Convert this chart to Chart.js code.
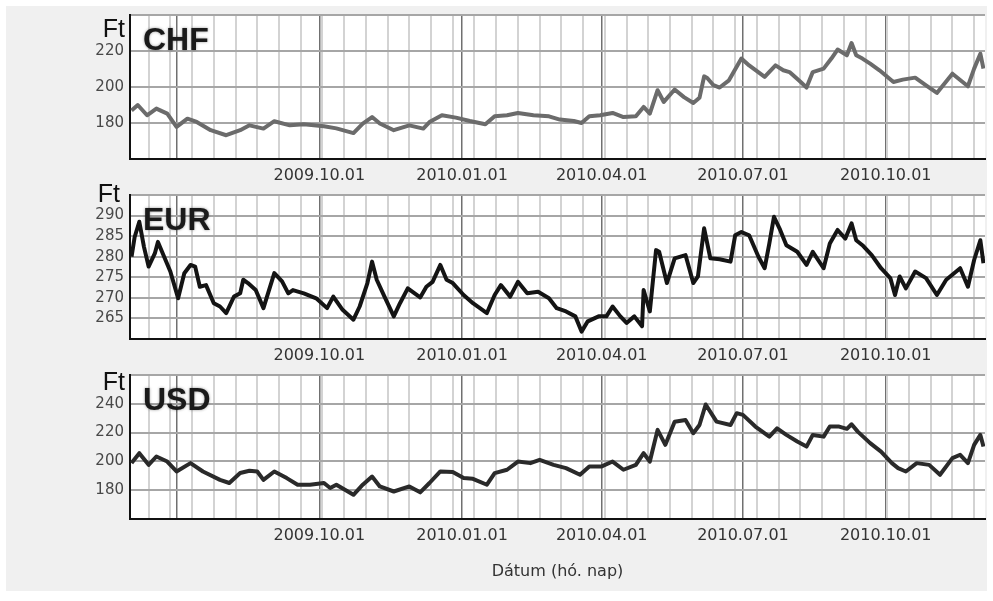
<!DOCTYPE html>
<html>
<head>
<meta charset="utf-8">
<script src="https://cdn.jsdelivr.net/npm/chart.js@4.4.1/dist/chart.umd.min.js"></script>
<style>
  html, body { margin: 0; padding: 0; background: #fff; overflow: hidden; }
  #frame { position: absolute; left: 6px; top: 6px; width: 981px; height: 585px; background: #f0f0f0; }
  .panel { position: absolute; left: 0; width: 993px; }
</style>
</head>
<body>
<div id="frame"></div>
<div class="panel" style="top:1px;height:188px"><canvas id="chfChart"></canvas></div>
<div class="panel" style="top:181px;height:188px"><canvas id="eurChart"></canvas></div>
<div class="panel" style="top:361px;height:228px"><canvas id="usdChart"></canvas></div>
<script>
// nap szamlalo: 0 = 2009.06.01
const xMin = 0, xMax = 551;
const quarterDays = [30, 122, 214, 304, 395, 487];
const quarterLabels = ['', '2009.10.01', '2010.01.01', '2010.04.01', '2010.07.01', '2010.10.01'];
const xTitle = 'Dátum (hó. nap)';

// CHF arfolyam
const chfDays = [1, 5, 11, 17, 24, 30, 37, 43, 52, 62, 71, 77, 86, 93, 103, 112, 125, 133, 144, 150,
  156, 161, 170, 180, 189, 193, 201, 210, 219, 229, 235, 243, 250, 260, 270, 277, 286, 291, 296, 303,
  311, 318, 326, 331, 335, 340, 344, 351, 357, 363, 367, 370, 372, 376, 380, 386, 394, 399, 409, 416,
  421, 425, 431, 436, 440, 447, 452, 456, 462, 465, 468, 472, 477, 483, 492, 498, 506, 513, 520, 530,
  540, 544, 548, 550];
const chfRates = [187, 190, 184.3, 188, 185.2, 177.8, 182.4, 180.6, 176, 173.2, 176, 178.7, 176.9, 181, 178.7, 179.3, 178.2, 177, 174.4, 179.7,
  183.3, 179.7, 176, 178.7, 176.9, 180.5, 184.3, 183, 181.1, 179.3, 183.7, 184.3, 185.6, 184.3, 183.7, 181.9, 181.1, 180, 183.7, 184.3,
  185.6, 183.3, 183.7, 188.9, 185.2, 198.2, 191.7, 198.6, 194.4, 191.1, 194, 205.9, 205, 201, 199.7, 203.7, 215.8, 212, 205.6, 212,
  209.3, 208.3, 203.7, 199.7, 208.3, 210.2, 215.8, 220.8, 217.6, 224.4, 217.6, 215.8, 213, 209.3, 202.8, 204.1, 205.2, 200.9, 196.7, 207.4,
  200.4, 210.2, 218.5, 210.2];

// EUR arfolyam
const eurDays = [1, 3, 6, 9, 12, 16, 18, 22, 26, 31, 35, 39, 42, 45, 49, 54, 58, 62, 67, 71,
  73, 76, 81, 86, 93, 98, 102, 105, 112, 120, 127, 131, 137, 144, 148, 153, 156, 159, 164, 170,
  174, 179, 187, 191, 195, 200, 204, 208, 215, 221, 230, 235, 239, 245, 250, 256, 263, 270, 275, 281,
  287, 291, 295, 302, 307, 311, 316, 320, 325, 330, 331, 335, 339, 341, 346, 351, 358, 363, 366, 370,
  374, 380, 387, 390, 394, 399, 405, 409, 412, 415, 419, 423, 430, 436, 440, 447, 451, 456, 461, 465,
  468, 472, 478, 484, 490, 493, 496, 500, 506, 513, 520, 526, 535, 540, 544, 548, 550];
const eurRates = [280, 284.8, 288.5, 282.4, 277.6, 280.8, 283.6, 280, 276.4, 269.9, 276, 278, 277.6, 272.7, 273.1, 268.7, 267.9, 266.3, 270.3, 271.1,
  274.4, 273.6, 271.9, 267.5, 276, 274, 271.1, 271.9, 271.1, 269.9, 267.5, 270.3, 267.1, 264.7, 267.9, 273.6, 278.8, 274.4, 270.3, 265.5,
  268.7, 272.3, 270.1, 272.7, 273.9, 278, 274.4, 273.6, 270.7, 268.7, 266.3, 270.7, 273.1, 270.3, 273.9, 271.1, 271.5, 269.9, 267.5, 266.7,
  265.5, 261.8, 264.3, 265.5, 265.5, 267.9, 265.5, 263.9, 265.5, 263.1, 271.9, 266.7, 281.6, 281.2, 273.6, 279.6, 280.4, 273.6, 275.2, 286.9,
  279.6, 279.4, 278.8, 285.2, 286, 285.2, 280, 277.2, 283.2, 289.7, 286.5, 282.8, 281.2, 278, 281.2, 277.2, 283.2, 286.5, 284.4, 288.1,
  284, 282.8, 280.4, 277.2, 274.8, 270.7, 275.2, 272.3, 276.4, 274.8, 270.7, 274.4, 277.2, 272.7, 279.2, 284, 278.4];

// USD arfolyam
const usdDays = [1, 6, 12, 17, 24, 30, 39, 47, 58, 64, 71, 77, 82, 86, 93, 101, 108, 116, 125, 129,
  133, 144, 150, 156, 161, 170, 180, 187, 193, 200, 208, 215, 221, 230, 235, 243, 250, 258, 264, 273,
  281, 290, 296, 304, 311, 318, 326, 331, 335, 340, 345, 351, 358, 363, 367, 371, 378, 387, 391, 395,
  403, 412, 417, 423, 430, 436, 440, 447, 451, 457, 462, 465, 469, 477, 484, 491, 495, 500, 507, 515,
  522, 530, 535, 540, 544, 548, 550];
const usdRates = [198.8, 205.7, 197.6, 203.4, 199.9, 193, 198.8, 193, 187.2, 185, 191.9, 193.5, 193, 187.2, 193, 188.4, 183.8, 183.8, 185, 181.5,
  183.8, 176.8, 183.8, 189.5, 182.6, 179.1, 182.6, 178.5, 185, 193, 192.6, 188.4, 187.9, 183.8, 191.9, 194.2, 199.9, 198.8, 201.1, 197.6,
  195.3, 190.7, 196.5, 196.5, 199.9, 194.2, 197.6, 205.7, 199.9, 221.9, 211.5, 227.6, 228.8, 219.6, 225.3, 239.5, 227.6, 225.3, 233.5, 232.3,
  224.2, 217.2, 223, 218.4, 213.8, 210.3, 218.4, 217.2, 224.2, 224.2, 222.6, 225.8, 220.7, 212.7, 206.8, 198.8, 195.3, 193, 198.8, 197.6,
  190.7, 202.3, 204.6, 198.8, 211.5, 218.4, 210.3];

Chart.defaults.font.family = '"DejaVu Sans", sans-serif';
Chart.defaults.animation = false;

// feher rajzterulet + "Ft" es devizanev
const panelDecor = {
  id: 'panelDecor',
  beforeDraw(chart) {
    const { ctx, chartArea: a } = chart;
    ctx.save();
    ctx.fillStyle = '#fff';
    ctx.fillRect(a.left, a.top, a.right - a.left, a.bottom - a.top);
    ctx.restore();
  },
  afterDatasetsDraw(chart, args, opts) {
    const { ctx, chartArea: a } = chart;
    ctx.save();
    ctx.fillStyle = '#111';
    ctx.textAlign = 'right';
    ctx.textBaseline = 'alphabetic';
    ctx.font = '25px "Liberation Sans", Arial, sans-serif';
    ctx.fillText('Ft', a.left - opts.ftGap, a.top + opts.ftBase);
    ctx.textAlign = 'left';
    ctx.font = 'bold 32px "Liberation Sans", Arial, sans-serif';
    ctx.shadowColor = 'rgba(0,0,0,0.4)';
    ctx.shadowBlur = 3;
    ctx.fillStyle = '#1a1a1a';
    ctx.fillText(opts.code, a.left + 13, a.top + 35);
    ctx.restore();
  }
};

function makePanel(id, code, days, rates, yMin, yMax, step, color, ftGap, ftBase, last) {
  new Chart(document.getElementById(id), {
    type: 'line',
    data: {
      datasets: [{
        data: days.map((d, i) => ({ x: d, y: rates[i] })),
        borderColor: color,
        borderWidth: 4,
        pointRadius: 0,
        tension: 0,
        borderJoinStyle: 'round'
      }]
    },
    options: {
      responsive: true,
      maintainAspectRatio: false,
      layout: { padding: { top: 14, right: 8, left: 0, bottom: 0 } },
      plugins: {
        legend: { display: false },
        tooltip: { enabled: false },
        panelDecor: { code: code, ftGap: ftGap, ftBase: ftBase }
      },
      scales: {
        x: {
          type: 'linear',
          min: xMin,
          max: xMax,
          afterBuildTicks(scale) {
            const vals = quarterDays.slice();
            for (let d = 12; d < xMax; d += 14) vals.push(d);
            vals.sort((a, b) => a - b);
            scale.ticks = vals.map(v => ({ value: v }));
          },
          afterFit(scale) {
            scale.height = last ? 70 : 30;
            scale.paddingLeft = 0;
            scale.paddingRight = 0;
          },
          grid: {
            drawTicks: false,
            color: c => quarterDays.includes(c.tick.value) ? '#707070' : '#d3d3d3',
            lineWidth: c => quarterDays.includes(c.tick.value) ? 1.5 : 2
          },
          border: { color: '#111', width: 2 },
          ticks: {
            autoSkip: false,
            maxRotation: 0,
            padding: 7,
            color: '#333',
            font: { size: 16 },
            callback: v => {
              const i = quarterDays.indexOf(v);
              return i >= 0 ? quarterLabels[i] : '';
            }
          },
          title: {
            display: last,
            text: xTitle,
            color: '#333',
            font: { size: 16 },
            padding: { top: 0, bottom: 8 }
          }
        },
        y: {
          min: yMin,
          max: yMax,
          afterFit(scale) {
            scale.width = 130;
            scale.paddingTop = 0;
            scale.paddingBottom = 0;
          },
          grid: { drawTicks: false, color: '#a6a6a6', lineWidth: 2 },
          border: { color: '#111', width: 2 },
          ticks: {
            stepSize: step,
            autoSkip: false,
            padding: 6,
            color: '#484848',
            font: { size: 15 },
            callback: v => (v === yMin || v === yMax) ? '' : v
          }
        }
      }
    },
    plugins: [panelDecor]
  });
}

makePanel('chfChart', 'CHF', chfDays, chfRates, 160, 240, 20, '#6b6b6b', 5, 22, false);
makePanel('eurChart', 'EUR', eurDays, eurRates, 260, 295, 5, '#141414', 10, 7, false);
makePanel('usdChart', 'USD', usdDays, usdRates, 160, 260, 20, '#2a2a2a', 5, 15, true);
</script>
</body>
</html>
